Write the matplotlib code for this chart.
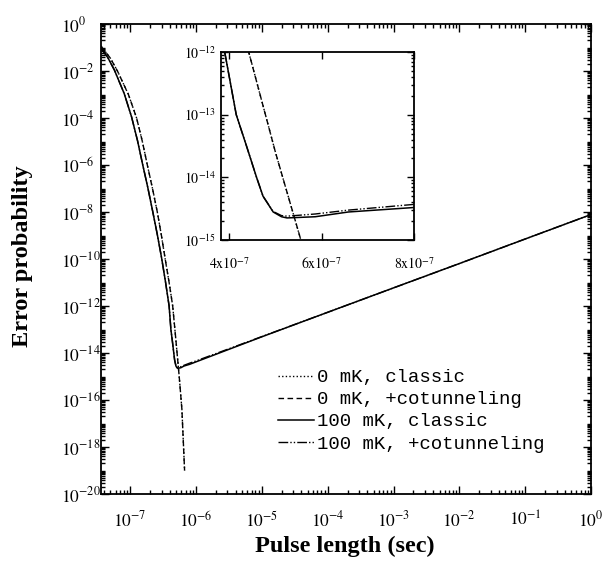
import numpy as np
import matplotlib
matplotlib.use("Agg")
import matplotlib.pyplot as plt
from matplotlib.ticker import LogLocator, FuncFormatter, NullFormatter, FixedLocator, FixedFormatter

plt.rcParams['mathtext.fontset'] = 'stix'
plt.rcParams['font.family'] = ['Liberation Serif', 'DejaVu Serif']

# --- data (pulse length in sec, error probability) ---
t_0mk_classic = [3.6e-8, 5e-8, 6.4e-8, 9.4e-8, 1.25e-7, 1.53e-7, 1.82e-7, 2.18e-7, 2.58e-7,
                 2.98e-7, 3.4e-7, 3.9e-7, 4.42e-7, 5.0e-7, 5.55e-7, 6.1e-7, 6.7e-7]
p_0mk_classic = [1.15e-1, 3.5e-2, 1e-2, 1e-3, 1e-4, 1e-5, 1e-6, 1e-7, 1e-8,
                 1e-9, 1e-10, 1e-11, 1e-12, 2.5e-14, 1e-15, 4e-17, 1e-19]

t_0mk_cot = [3.6e-8, 5e-8, 6.4e-8, 9.4e-8, 1.25e-7, 1.53e-7, 1.82e-7, 2.18e-7, 2.58e-7,
             2.98e-7, 3.4e-7, 3.9e-7, 4.42e-7, 5.0e-7, 5.55e-7, 6.1e-7, 6.7e-7]
p_0mk_cot = [1.15e-1, 3.5e-2, 1e-2, 1e-3, 1e-4, 1e-5, 1e-6, 1e-7, 1e-8,
             1e-9, 1e-10, 1e-11, 1e-12, 2.5e-14, 1e-15, 4e-17, 1e-19]

t_100mk_classic = [3.6e-8, 4.6e-8, 5.75e-8, 8.1e-8, 1.05e-7, 1.29e-7, 1.54e-7, 1.85e-7,
                   2.19e-7, 2.58e-7, 3.0e-7, 3.43e-7, 3.9e-7, 4.15e-7, 4.37e-7, 4.59e-7,
                   4.73e-7, 4.95e-7, 5.13e-7, 5.25e-7, 5.86e-7, 6.58e-7, 8e-7,
                   1e-6, 1e-5, 1e-4, 1e-3, 1e-2, 1e-1, 1e0]
p_100mk_classic = [9.5e-2, 3.6e-2, 1.1e-2, 1.1e-3, 1.1e-4, 1.1e-5, 1.1e-6, 1.1e-7,
                   1.1e-8, 1.1e-9, 1.1e-10, 1.1e-11, 1e-12, 1e-13, 3.2e-14, 1e-14,
                   5e-15, 2.8e-15, 2.35e-15, 2.25e-15, 2.35e-15, 2.8e-15, 3.3e-15,
                   4.2e-15, 4.9e-14, 5.4e-13, 5.9e-12, 6.4e-11, 7.1e-10, 7.8e-9]

t_100mk_cot = [3.6e-8, 4.6e-8, 5.75e-8, 8.1e-8, 1.05e-7, 1.29e-7, 1.54e-7, 1.85e-7,
               2.19e-7, 2.58e-7, 3.0e-7, 3.43e-7, 3.9e-7, 4.15e-7, 4.37e-7, 4.59e-7,
               4.73e-7, 4.95e-7, 5.13e-7, 5.25e-7, 5.86e-7, 6.58e-7, 8e-7,
               1e-6, 1e-5, 1e-4, 1e-3, 1e-2, 1e-1, 1e0]
p_100mk_cot = [9.5e-2, 3.6e-2, 1.1e-2, 1.1e-3, 1.1e-4, 1.1e-5, 1.1e-6, 1.1e-7,
               1.1e-8, 1.1e-9, 1.1e-10, 1.1e-11, 1e-12, 1e-13, 3.2e-14, 1e-14,
               5e-15, 2.85e-15, 2.45e-15, 2.4e-15, 2.6e-15, 3.0e-15, 3.7e-15,
               4.6e-15, 5.0e-14, 5.4e-13, 5.9e-12, 6.4e-11, 7.1e-10, 7.8e-9]

labels = ["0 mK, classic", "0 mK, +cotunneling", "100 mK, classic", "100 mK, +cotunneling"]

main_xticks = [1e-7, 1e-6, 1e-5, 1e-4, 1e-3, 1e-2, 1e-1, 1e0]
main_yticks = [1e-20, 1e-18, 1e-16, 1e-14, 1e-12, 1e-10, 1e-8, 1e-6, 1e-4, 1e-2, 1e0]
inset_xticks = [4e-7, 6e-7, 8e-7]
inset_xticklabels = [r'$4\mathrm{x}10^{-7}$', r'$6\mathrm{x}10^{-7}$', r'$8\mathrm{x}10^{-7}$']
inset_yticks = [1e-15, 1e-14, 1e-13, 1e-12]

styles = [
    dict(linestyle=(0, (1, 1.6)), color='black', lw=1.0),
    dict(linestyle=(0, (4, 2.5)), color='black', lw=1.0),
    dict(linestyle='-', color='black', lw=1.1),
    dict(linestyle=(0, (7, 1.5, 1, 1.5, 1, 1.5)), color='black', lw=1.0),
]
series = [(t_0mk_classic, p_0mk_classic), (t_0mk_cot, p_0mk_cot),
          (t_100mk_classic, p_100mk_classic), (t_100mk_cot, p_100mk_cot)]


def pow_fmt(v, pos):
    return r'$10^{%d}$' % int(round(np.log10(v)))


fig = plt.figure(figsize=(6.04, 5.62), dpi=100)
ax = fig.add_axes([101 / 604, 1 - 494 / 562, 490 / 604, 470 / 562])

for (t, p), st, lab in zip(series, styles, labels):
    ax.plot(t, p, label=lab, **st)

ax.set_xscale('log')
ax.set_yscale('log')
ax.set_xlim(3.6e-8, 1e0)
ax.set_ylim(1e-20, 1e0)

ax.xaxis.set_major_locator(FixedLocator(main_xticks))
ax.xaxis.set_minor_locator(LogLocator(base=10, subs=np.arange(2, 10), numticks=100))
ax.yaxis.set_major_locator(FixedLocator(main_yticks))
ax.yaxis.set_minor_locator(LogLocator(base=10, subs=np.arange(1, 10), numticks=100))
ax.xaxis.set_major_formatter(FuncFormatter(pow_fmt))
ax.yaxis.set_major_formatter(FuncFormatter(pow_fmt))
ax.xaxis.set_minor_formatter(NullFormatter())
ax.yaxis.set_minor_formatter(NullFormatter())

ax.tick_params(which='both', direction='in', top=True, right=True, width=1)
ax.tick_params(which='major', length=6, labelsize=12.5)
ax.tick_params(axis='x', which='major', pad=12)
# labels start at a fixed left edge, superscripts hang to the right
ax.tick_params(axis='y', which='major', pad=28.5)
for lab in ax.get_yticklabels():
    lab.set_horizontalalignment('left')
ax.tick_params(which='minor', length=3)
for s in ax.spines.values():
    s.set_linewidth(1.3)

ax.set_xlabel("Pulse length (sec)", fontsize=17.5, fontweight='bold', va='center')
ax.xaxis.set_label_coords(0.497, -0.111)
ax.set_ylabel("Error probability", fontsize=17.5, fontweight='bold', va='center')
ax.yaxis.set_label_coords(-0.161, 0.505)

leg = ax.legend(loc='upper left', bbox_to_anchor=((278 - 101) / 490, (494 - 369) / 470),
                frameon=False, borderpad=0, borderaxespad=0, handlelength=1.9,
                handletextpad=0.15, labelspacing=0.25,
                prop={'family': 'Liberation Mono', 'size': 13.7})

# --- inset ---
axin = fig.add_axes([221 / 604, 1 - 240 / 562, 193 / 604, 188 / 562])
for (t, p), st in zip(series, styles):
    axin.plot(t, p, **st)
axin.set_yscale('log')
axin.set_xlim(3.82e-7, 8e-7)
axin.set_ylim(1e-15, 1e-12)
axin.xaxis.set_major_locator(FixedLocator(inset_xticks))
axin.xaxis.set_major_formatter(FixedFormatter(inset_xticklabels))
axin.yaxis.set_major_locator(FixedLocator(inset_yticks))
axin.yaxis.set_minor_locator(LogLocator(base=10, subs=np.arange(2, 10), numticks=50))
axin.yaxis.set_major_formatter(FuncFormatter(pow_fmt))
axin.yaxis.set_minor_formatter(NullFormatter())
axin.tick_params(which='both', direction='in', top=True, right=True, width=1)
axin.tick_params(which='major', length=5, labelsize=10)
axin.tick_params(axis='x', which='major', pad=12)
axin.tick_params(axis='y', which='major', pad=26.5)
for lab in axin.get_yticklabels():
    lab.set_horizontalalignment('left')
axin.tick_params(which='minor', length=2.5)
for s in axin.spines.values():
    s.set_linewidth(1.3)

fig.savefig("out.png", dpi=100)
